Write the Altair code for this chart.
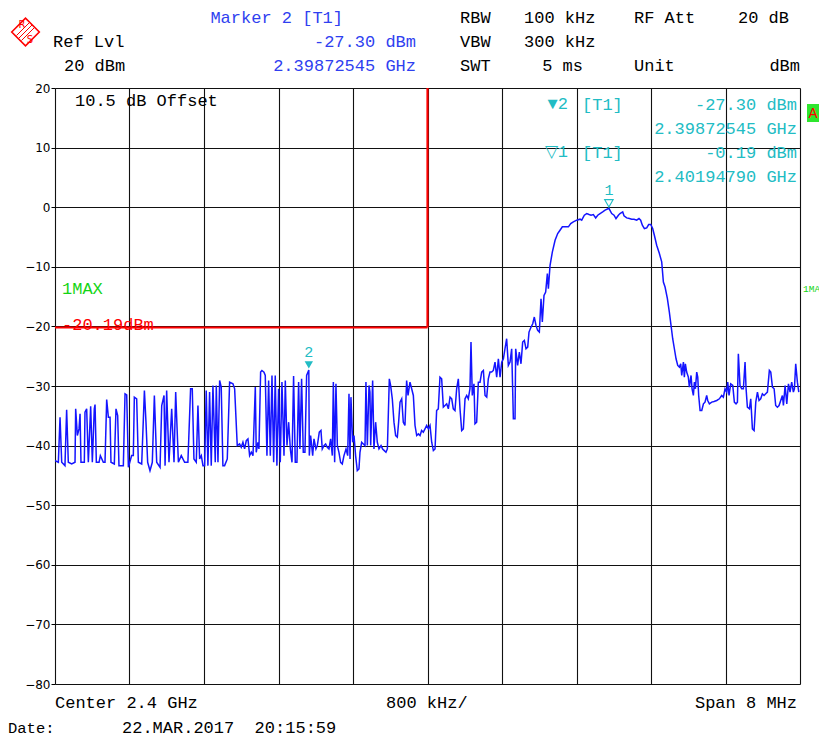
import altair as alt
import pandas as pd

# ---------------- data ----------------
# frequency offset from centre (2.4 GHz), MHz
freq_mhz = [
    -4.000, -3.964, -3.946, -3.928, -3.893, -3.875, -3.857, -3.821, -3.785, -3.778,
    -3.760, -3.742, -3.731, -3.721, -3.685, -3.678, -3.660, -3.642, -3.624, -3.617,
    -3.599, -3.578, -3.570, -3.556, -3.527, -3.513, -3.481, -3.463, -3.445, -3.427,
    -3.409, -3.399, -3.363, -3.345, -3.327, -3.313, -3.266, -3.248, -3.230, -3.212,
    -3.177, -3.159, -3.148, -3.123, -3.105, -3.069, -3.040, -3.023, -3.005, -2.980,
    -2.955, -2.933, -2.908, -2.872, -2.854, -2.829, -2.818, -2.801, -2.776, -2.747,
    -2.722, -2.704, -2.675,
    -2.644, -2.608, -2.573, -2.544, -2.526, -2.508, -2.483, -2.465, -2.447, -2.429,
    -2.411, -2.393, -2.376, -2.358, -2.340, -2.322, -2.304, -2.279, -2.268, -2.250,
    -2.232, -2.215, -2.197, -2.179, -2.150, -2.125, -2.089, -2.071, -2.043, -2.018,
    -2.000, -1.982, -1.964, -1.946, -1.928, -1.910, -1.892, -1.874, -1.849, -1.839,
    -1.821, -1.810, -1.792, -1.778, -1.756, -1.742, -1.724, -1.706, -1.688, -1.670,
    -1.652, -1.635, -1.617, -1.599, -1.581, -1.563, -1.541, -1.527, -1.509, -1.491,
    -1.473, -1.455, -1.438, -1.420, -1.402, -1.384,
    -1.370, -1.352, -1.334, -1.316, -1.298, -1.2745, -1.269, -1.255, -1.233, -1.219,
    -1.198, -1.183, -1.162, -1.144, -1.130, -1.112, -1.094, -1.076, -1.058, -1.040,
    -1.022, -1.011, -0.997, -0.983, -0.968, -0.951, -0.933, -0.915, -0.897, -0.875,
    -0.857, -0.843, -0.832, -0.822, -0.804, -0.789, -0.772, -0.754, -0.736, -0.725,
    -0.707, -0.689, -0.671, -0.661, -0.646, -0.628, -0.618, -0.610, -0.589, -0.575,
    -0.557, -0.539, -0.521, -0.499, -0.482, -0.464, -0.446, -0.431, -0.410, -0.396,
    -0.378, -0.360, -0.342, -0.324, -0.310, -0.295, -0.277, -0.260, -0.242, -0.224,
    -0.209, -0.188, -0.170, -0.152, -0.134, -0.116, -0.098, -0.080, -0.063, -0.045,
    -0.027,
    -0.009, 0.009, 0.027, 0.045, 0.063, 0.081, 0.098, 0.116, 0.134, 0.152,
    0.170, 0.188, 0.206, 0.224, 0.242, 0.260, 0.277, 0.295, 0.313, 0.331,
    0.349, 0.367, 0.385, 0.403, 0.421, 0.438, 0.456, 0.467, 0.481, 0.499,
    0.510, 0.528, 0.546, 0.564, 0.582, 0.600, 0.618, 0.636, 0.653, 0.671,
    0.689, 0.707, 0.725, 0.743, 0.761, 0.779, 0.797, 0.815, 0.832, 0.850,
    0.868, 0.886, 0.904, 0.922, 0.940, 0.947, 0.968, 0.986, 1.004, 1.022,
    1.040, 1.058, 1.076, 1.090, 1.112, 1.130, 1.147, 1.165, 1.183, 1.201,
    1.219, 1.233, 1.251, 1.269, 1.287, 1.298, 1.316, 1.341, 1.370, 1.398,
    1.423, 1.448, 1.477, 1.513, 1.538, 1.566, 1.602, 1.638, 1.656, 1.684,
    1.710, 1.735, 1.756, 1.781, 1.806, 1.828, 1.853, 1.881, 1.907, 1.948,
    1.978, 2.003, 2.024, 2.050, 2.067, 2.096, 2.110, 2.139, 2.168, 2.193,
    2.218, 2.246, 2.271, 2.289, 2.307, 2.329, 2.354, 2.375, 2.397, 2.418,
    2.436, 2.461, 2.490, 2.515, 2.533, 2.551, 2.576, 2.597, 2.615, 2.633,
    2.651, 2.669, 2.687, 2.705, 2.719, 2.730, 2.748, 2.758, 2.769, 2.783,
    2.801, 2.812, 2.830, 2.841, 2.855, 2.866, 2.877, 2.891, 2.902, 2.912,
    2.927, 2.945, 2.963, 2.980, 2.998, 3.009, 3.027, 3.052, 3.077, 3.106,
    3.134, 3.159, 3.177, 3.195, 3.213, 3.224, 3.238, 3.256, 3.278, 3.295,
    3.313, 3.328, 3.338, 3.356, 3.374, 3.392, 3.410, 3.421, 3.435, 3.457,
    3.471, 3.489, 3.507, 3.525, 3.543, 3.560, 3.578, 3.596, 3.614, 3.632,
    3.650, 3.671, 3.686, 3.704, 3.722, 3.739, 3.757, 3.775, 3.793, 3.811,
    3.822, 3.840, 3.858, 3.876, 3.893, 3.911, 3.929, 3.940, 3.954, 3.972,
    3.987,
]

# trace level, dBm
level_dbm = [
    -42.52, -42.80, -35.23, -42.80, -43.36, -34.00, -42.80, -43.08, -42.80, -33.83,
    -38.31, -37.20, -34.67, -42.80, -42.80, -34.39, -33.83, -42.80, -36.07, -33.39,
    -42.80, -33.83, -33.11, -42.80, -42.80, -41.68, -42.80, -42.80, -32.26, -35.23,
    -35.23, -42.80, -43.08, -33.83, -34.95, -43.36, -43.36, -31.31, -31.48, -43.64,
    -41.68, -41.68, -31.87, -32.15, -42.80, -43.08, -30.75, -36.07, -42.80, -44.20,
    -42.80, -31.59, -42.80, -43.64, -33.27, -31.59, -43.36, -30.75, -42.80, -33.83,
    -42.80, -31.03, -42.80,
    -41.68, -42.80, -42.80, -30.47, -30.47, -42.24, -42.80, -33.27, -42.24, -41.68,
    -43.36, -43.36, -30.75, -43.36, -31.03, -43.36, -29.91, -42.80, -29.91, -42.80,
    -29.07, -30.19, -43.36, -43.36, -42.24, -29.35, -29.63, -30.47, -40.00, -39.72,
    -40.28, -39.44, -40.56, -39.16, -38.88, -41.68, -41.12, -41.68, -30.19, -41.12,
    -39.44, -40.56, -27.67, -27.39, -27.67, -28.23, -41.68, -29.07, -41.68, -28.23,
    -42.80, -28.23, -43.36, -30.47, -42.80, -29.35, -41.68, -29.07, -40.00, -36.07,
    -40.56, -42.80, -28.34, -42.80, -42.80, -29.35,
    -40.56, -28.79, -41.12, -41.12, -28.23, -27.30, -41.68, -38.31, -41.68, -38.88,
    -40.56, -40.00, -37.75, -37.47, -40.56, -40.00, -39.72, -40.28, -40.56, -38.88,
    -41.68, -29.35, -42.80, -29.63, -40.00, -41.12, -42.80, -43.08, -41.68, -40.56,
    -41.68, -31.31, -42.24, -31.87, -39.44, -38.31, -41.68, -44.20, -43.92, -41.12,
    -39.44, -39.72, -40.00, -29.35, -40.00, -29.91, -31.03, -40.00, -29.07, -40.56,
    -36.07, -39.44, -40.56, -40.00, -40.56, -40.84, -41.12, -40.56, -28.79, -29.91,
    -32.15, -36.07, -38.31, -38.59, -36.07, -32.71, -32.15, -36.07, -36.63, -29.07,
    -31.59, -29.35, -30.47, -31.59, -36.63, -38.31, -38.03, -38.31, -37.47, -37.75,
    -37.20,
    -36.63, -37.20, -36.63, -39.44, -40.84, -40.56, -34.11, -33.83, -28.51, -28.79,
    -33.55, -33.27, -32.99, -33.83, -31.87, -32.15, -33.83, -34.11, -30.47, -28.79,
    -33.83, -37.47, -37.20, -32.15, -31.59, -32.15, -30.47, -22.63, -31.59, -29.63,
    -36.35, -36.07, -29.35, -29.35, -27.67, -27.39, -31.59, -31.87, -28.79, -27.67,
    -27.67, -27.39, -25.99, -28.51, -25.43, -28.51, -25.99, -25.43, -23.75, -22.07,
    -26.55, -25.99, -23.75, -35.51, -35.51, -23.75, -26.55, -24.31, -26.27, -22.63,
    -22.35, -23.75, -23.47, -20.95, -20.11, -19.55, -18.43, -19.83, -20.67, -20.95,
    -15.35, -19.27, -14.79, -14.23, -11.15, -13.67, -9.74, -7.50, -5.54, -4.42,
    -3.86, -3.30, -3.30, -3.30, -2.74, -2.46, -2.18, -2.01, -2.18, -1.34,
    -1.06, -1.23, -1.34, -1.23, -1.79, -1.34, -1.06, -0.78, -0.50, -0.19,
    -1.06, -1.34, -1.90, -1.34, -1.06, -0.78, -1.45, -1.79, -1.90, -2.01,
    -2.01, -2.18, -1.90, -2.18, -3.02, -3.58, -3.47, -2.91, -2.91, -3.58,
    -4.70, -6.38, -7.78, -9.18, -12.55, -13.39, -15.35, -17.59, -19.83, -22.07,
    -23.75, -25.43, -26.55, -26.83, -26.27, -28.23, -25.99, -28.51, -26.27, -27.67,
    -28.51, -30.19, -28.23, -30.47, -31.59, -29.35, -30.47, -27.67, -28.51, -31.59,
    -34.11, -34.11, -32.99, -32.71, -31.59, -32.43, -32.99, -32.71, -32.60, -32.43,
    -32.15, -31.59, -31.87, -30.47, -31.03, -29.35, -31.59, -29.63, -29.91, -32.71,
    -32.99, -32.71, -24.59, -29.91, -30.47, -30.47, -25.99, -30.47, -33.55, -33.83,
    -32.15, -37.20, -37.47, -32.71, -31.03, -32.43, -32.15, -31.31, -31.59, -31.31,
    -31.03, -27.39, -27.67, -30.19, -30.47, -33.27, -33.55, -33.27, -32.43, -31.59,
    -33.27, -29.91, -32.99, -29.63, -31.03, -29.35, -31.03, -30.47, -26.27, -29.35,
    -31.03,
]

marker_name = ["2", "1"]
marker_freq = [-1.2745, 1.9479]          # MHz from centre
marker_level = [-27.30, -0.19]           # dBm
marker_filled = [True, False]

display_line_dbm = -20.19
frequency_line_mhz = 0.0

y_ticks = [20, 10, 0, -10, -20, -30, -40, -50, -60, -70, -80]
x_grid = [-4.0, -3.2, -2.4, -1.6, -0.8, 0.0, 0.8, 1.6, 2.4, 3.2, 4.0]

# ---------------- chart ----------------
W, H = 745, 596
FONT = "Liberation Mono"
FS = 17
BLUE_TRACE = "#1414ff"
BLUE_TXT = "#2f3ff0"
CYAN = "#22bcc4"
RED = "#ff0000"
GREEN = "#14d414"
NB = "\u00a0"

trace_df = pd.DataFrame({"f": freq_mhz, "l": level_dbm})

xs = alt.Scale(domain=[-4, 4], nice=False, zero=False)
ys = alt.Scale(domain=[-80, 20], nice=False, zero=False)

x_axis = alt.Axis(values=x_grid, labels=False, ticks=False, domain=False, grid=True,
                  gridColor="#111111", gridWidth=1.1, gridOpacity=1, title=None)
y_axis = alt.Axis(values=y_ticks, labels=True, ticks=True, tickSize=4, tickColor="black",
                  domain=False, grid=True, gridColor="#111111", gridWidth=1.1, gridOpacity=1,
                  labelFont="DejaVu Sans", labelFontSize=12, labelColor="black",
                  labelPadding=1, title=None, labelBaseline="middle")

trace = alt.Chart(trace_df).mark_line(color=BLUE_TRACE, strokeWidth=1.5, clip=True).encode(
    x=alt.X("f:Q", scale=xs, axis=x_axis),
    y=alt.Y("l:Q", scale=ys, axis=y_axis),
)

hline = alt.Chart(pd.DataFrame({"f": [-4.0], "f2": [frequency_line_mhz], "l": [display_line_dbm]})).mark_rule(
    color=RED, strokeWidth=2).encode(x="f:Q", x2="f2:Q", y="l:Q")
vline = alt.Chart(pd.DataFrame({"f": [frequency_line_mhz], "l": [20.0], "l2": [display_line_dbm]})).mark_rule(
    color=RED, strokeWidth=2.2).encode(x="f:Q", y="l:Q", y2="l2:Q")

mk_df = pd.DataFrame({"f": marker_freq, "l": marker_level, "n": marker_name, "filled": marker_filled})
mk_filled = alt.Chart(mk_df[mk_df["filled"]]).mark_point(
    shape="triangle-down", size=70, filled=True, color=CYAN, opacity=1, yOffset=-5).encode(x="f:Q", y="l:Q")
mk_open = alt.Chart(mk_df[~mk_df["filled"]]).mark_point(
    shape="triangle-down", size=70, filled=False, color=CYAN, strokeWidth=1.2, opacity=1, yOffset=-5).encode(x="f:Q", y="l:Q")
mk_text = alt.Chart(mk_df).mark_text(font=FONT, fontSize=15, color=CYAN, yOffset=-18).encode(
    x="f:Q", y="l:Q", text="n:N")

layers = [trace, hline, vline, mk_filled, mk_open, mk_text]


def txt(s, x, y, color="black", align="left", size=FS, font=FONT):
    return alt.Chart(pd.DataFrame({"t": [s]})).mark_text(
        font=font, fontSize=size, color=color, align=align, baseline="middle").encode(
        x=alt.value(x), y=alt.value(y), text="t:N")


# header (coordinates relative to plot origin)
layers += [
    txt("Marker 2 [T1]", 288, -70, BLUE_TXT, "right"),
    txt("Ref Lvl", -2, -46),
    txt("-27.30 dBm", 361, -46, BLUE_TXT, "right"),
    txt("20 dBm", 9, -22),
    txt("2.39872545 GHz", 361, -22, BLUE_TXT, "right"),
    txt("RBW", 405, -70), txt("100 kHz", 469, -70), txt("RF Att", 579, -70), txt("20 dB", 734, -70, align="right"),
    txt("VBW", 405, -46), txt("300 kHz", 469, -46),
    txt("SWT", 405, -22), txt("5 ms", 528, -22, align="right"), txt("Unit", 579, -22), txt("dBm", 745, -22, align="right"),
]
# inside plot
layers += [
    txt("10.5 dB Offset", 20, 13),
    txt("1MAX", 7, 201, GREEN),
    txt("-20.19dBm", 7, 237, RED),
    txt("\u25bc2", 513, 16, CYAN, "right"),
    txt("[T1]", 527, 17, CYAN),
    txt("-27.30 dBm", 742, 17, CYAN, "right"),
    txt("2.39872545 GHz", 742, 41, CYAN, "right"),
    txt("\u25bd1", 513, 64, CYAN, "right"),
    txt("[T1]", 527, 65, CYAN),
    txt("-0.19 dBm", 742, 65, CYAN, "right"),
    txt("2.40194790 GHz", 742, 89, CYAN, "right"),
    txt("1MA", 748, 201, GREEN, size=9.5),
]
# status box "A"
layers.append(alt.Chart(pd.DataFrame({"a": [0]})).mark_rect(color="#2ee62e").encode(
    x=alt.value(752), x2=alt.value(778), y=alt.value(16), y2=alt.value(34)))
layers.append(txt("A", 758, 25, RED, "center", size=15))
# footer
layers += [
    txt("Center 2.4 GHz", 0, 615),
    txt("800 kHz/", 331, 615),
    txt("Span 8 MHz", 742, 615, align="right"),
    txt("Date:", -47, 640, size=15.5),
    txt("22.MAR.2017" + NB + NB + "20:15:59", 67, 640, size=17),
]
# R&S logo
layers.append(alt.Chart(pd.DataFrame({"a": [0]})).mark_point(
    shape="diamond", size=760, filled=False, color=RED, strokeWidth=1.6, opacity=1).encode(
    x=alt.value(-29.5), y=alt.value(-56)))
for d in (-2.5, 0, 2.5):
    layers.append(alt.Chart(pd.DataFrame({"a": [0]})).mark_rule(color=RED, strokeWidth=1).encode(
        x=alt.value(-23 + d), y=alt.value(-63 + d), x2=alt.value(-36 + d), y2=alt.value(-50 + d)))
layers.append(txt("R", -33, -63, RED, "center", size=10, font="DejaVu Sans"))
layers.append(txt("S", -25, -48, RED, "center", size=10, font="DejaVu Sans"))

chart = alt.layer(*layers).properties(
    width=W, height=H,
    autosize=alt.AutoSizeParams(type="none"),
    padding={"left": 47, "top": 80, "right": 19, "bottom": 55},
).configure_view(stroke="black", strokeWidth=2.5).configure(background="white")

chart.save("out.html", embed_options={"renderer": "svg", "actions": False})
